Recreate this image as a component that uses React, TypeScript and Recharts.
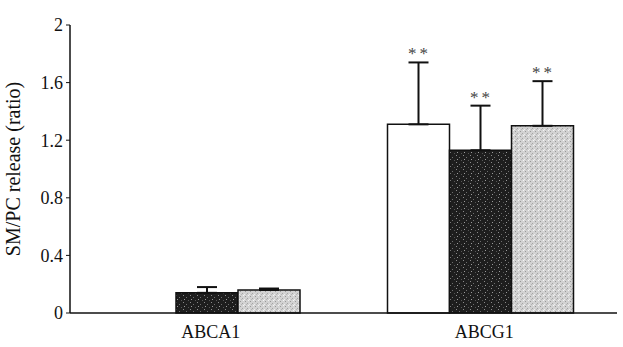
import { Bar, BarChart, ErrorBar, LabelList, XAxis, YAxis } from "recharts";

const categories = ["ABCA1", "ABCG1"];
const whiteValues = [0, 1.31];
const whiteErrors = [0, 0.43];
const darkValues = [0.14, 1.13];
const darkErrors = [0.04, 0.31];
const lightValues = [0.16, 1.3];
const lightErrors = [0.01, 0.31];
const whiteStars = ["", "**"];
const darkStars = ["", "**"];
const lightStars = ["", "**"];
const yTicks = [0, 0.4, 0.8, 1.2, 1.6, 2];

const data = categories.map((name, i) => ({
  name,
  white: whiteValues[i],
  whiteErr: [0, whiteErrors[i]],
  dark: darkValues[i],
  darkErr: [0, darkErrors[i]],
  light: lightValues[i],
  lightErr: [0, lightErrors[i]],
}));

const font = "'Liberation Serif', 'DejaVu Serif', serif";

// stars sit just above the error cap; look the row up by category name
function starLabel(stars: string[], errors: number[], values: number[]) {
  return (props: any) => {
    const { x, y, width, height, value } = props;
    const i = categories.indexOf(value);
    if (i < 0 || !stars[i]) return null;
    const perUnit = values[i] > 0 ? Math.abs(height) / values[i] : 0;
    const top = y - errors[i] * perUnit;
    return (
      <text
        x={x + width / 2 + 1}
        y={top - 3}
        textAnchor="middle"
        fontFamily={font}
        fontSize={17}
        letterSpacing={3}
        fill="#444"
      >
        {stars[i]}
      </text>
    );
  };
}

export default function App() {
  return (
    <div style={{ position: "absolute", left: 0, top: 0, background: "#fff" }}>
      <BarChart
        width={623}
        height={347}
        data={data}
        margin={{ top: 25, right: 6, left: 0, bottom: 2 }}
        barCategoryGap={44}
        barGap={0}
      >
        <defs>
          <pattern id="darkSpeckle" width="7" height="7" patternUnits="userSpaceOnUse">
            <rect width="7" height="7" fill="#1e1e1e" />
            <rect x="1" y="1" width="1" height="1" fill="#8a8a8a" />
            <rect x="4" y="3" width="1" height="1" fill="#6e6e6e" />
            <rect x="2" y="5" width="1" height="1" fill="#9a9a9a" />
            <rect x="6" y="6" width="1" height="1" fill="#555" />
          </pattern>
          <pattern id="lightSpeckle" width="5" height="5" patternUnits="userSpaceOnUse">
            <rect width="5" height="5" fill="#d2d2d2" />
            <rect x="0" y="1" width="1" height="1" fill="#999" />
            <rect x="3" y="0" width="1" height="1" fill="#f4f4f4" />
            <rect x="2" y="3" width="1" height="1" fill="#a5a5a5" />
            <rect x="4" y="4" width="1" height="1" fill="#eeeeee" />
            <rect x="1" y="4" width="1" height="1" fill="#b5b5b5" />
          </pattern>
        </defs>
        <XAxis
          dataKey="name"
          height={32}
          tickLine={false}
          axisLine={{ stroke: "#111", strokeWidth: 1.5 }}
          tick={{ fill: "#111", fontSize: 18, fontFamily: font, dx: 4 }}
          tickMargin={6}
        />
        <YAxis
          width={70}
          domain={[0, 2]}
          ticks={yTicks}
          interval={0}
          tickSize={4}
          tickMargin={3}
          tickFormatter={(v: number) => String(v)}
          axisLine={{ stroke: "#111", strokeWidth: 1.5 }}
          tickLine={{ stroke: "#111" }}
          tick={{ fill: "#111", fontSize: 18, fontFamily: font }}
          label={{
            value: "SM/PC release (ratio)",
            angle: -90,
            position: "insideLeft",
            dx: 8,
            style: { textAnchor: "middle", fontFamily: font, fontSize: 20, fill: "#111" },
          }}
        />
        <Bar dataKey="white" fill="#fff" stroke="#111" strokeWidth={1.5} isAnimationActive={false}>
          <ErrorBar dataKey="whiteErr" width={10} stroke="#111" strokeWidth={2} direction="y" />
          <LabelList dataKey="name" content={starLabel(whiteStars, whiteErrors, whiteValues)} />
        </Bar>
        <Bar dataKey="dark" fill="url(#darkSpeckle)" stroke="#111" strokeWidth={1.5} isAnimationActive={false}>
          <ErrorBar dataKey="darkErr" width={10} stroke="#111" strokeWidth={2} direction="y" />
          <LabelList dataKey="name" content={starLabel(darkStars, darkErrors, darkValues)} />
        </Bar>
        <Bar dataKey="light" fill="url(#lightSpeckle)" stroke="#111" strokeWidth={1.5} isAnimationActive={false}>
          <ErrorBar dataKey="lightErr" width={10} stroke="#111" strokeWidth={2} direction="y" />
          <LabelList dataKey="name" content={starLabel(lightStars, lightErrors, lightValues)} />
        </Bar>
      </BarChart>
    </div>
  );
}
